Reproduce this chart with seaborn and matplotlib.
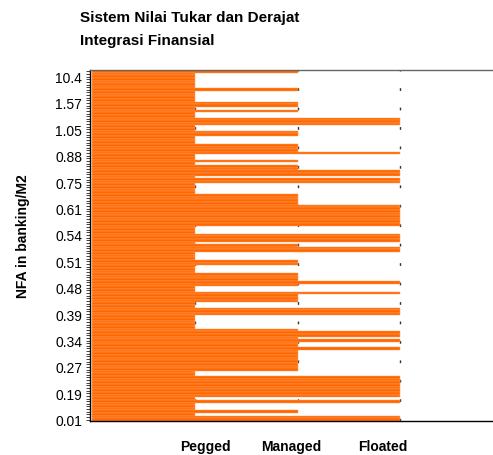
import matplotlib
matplotlib.use("Agg")
import matplotlib.pyplot as plt
import seaborn as sns
import numpy as np
import pandas as pd

# Exchange-rate regime per country row, top (highest NFA) to bottom (lowest NFA)
# 1 = Pegged, 2 = Managed, 3 = Floated
regime = [2,
          1, 1, 1, 1, 1, 1,
          2,
          1, 1, 1, 1,
          2, 2,
          1,
          2,
          1, 1,
          3, 3, 3,
          1, 1,
          2, 2,
          1, 1, 1,
          2, 2, 2,
          3,
          1, 1,
          2,
          1,
          2, 2,
          3, 3,
          1,
          3, 3,
          1, 1, 1, 1,
          2, 2, 2, 2,
          3, 3, 3, 3, 3, 3, 3, 3,
          1, 1, 1,
          3, 3, 3,
          1,
          2,
          3, 3,
          1, 1, 1,
          2, 2,
          1, 1, 1,
          2, 2, 2,
          3,
          2,
          1, 1,
          3,
          2, 2, 2,
          1, 1,
          3, 3, 3,
          1, 1, 1, 1, 1,
          2,
          3, 3,
          2,
          3,
          2, 2,
          3,
          2, 2, 2, 2, 2, 2, 2, 2,
          1, 1,
          3, 3, 3, 3, 3, 3, 3, 3,
          1,
          3,
          1, 1, 1,
          2,
          1,
          3, 3]

# NFA tick labels shown on the y axis (every 10th row, top to bottom)
nfa_labels = ["10.4", "1.57", "1.05", "0.88", "0.75", "0.61", "0.54",
              "0.51", "0.48", "0.39", "0.34", "0.27", "0.19", "0.01"]
regime_labels = ["Pegged", "Managed", "Floated"]

title = "Sistem Nilai Tukar dan Derajat\nIntegrasi Finansial"
ylabel = "NFA in banking/M2"

n = len(regime)
df = pd.DataFrame({"row": np.arange(n), "regime": regime})

sns.set_theme(style="white")
plt.rcParams["font.family"] = ["Liberation Sans", "DejaVu Sans"]
plt.rcParams["text.color"] = "black"
plt.rcParams["axes.labelcolor"] = "black"
plt.rcParams["xtick.color"] = "black"
plt.rcParams["ytick.color"] = "black"

fig = plt.figure(figsize=(4.93, 4.56), dpi=100)
ax = fig.add_axes([90 / 493, 1 - 422 / 456, 1 - 90 / 493, (422 - 71) / 456])

# dashed grid behind bars
for xv in [1, 2, 3]:
    ax.axvline(xv, color="#333333", lw=1.0, ls=(0, (2, 12)), zorder=0)

sns.barplot(data=df, x="regime", y="row", orient="h", color="#FF6600",
            saturation=1, width=1.0, edgecolor="#FFA060", linewidth=0.35,
            ax=ax, zorder=2)

ax.set_xlim(-0.02, 3.9)
ax.set_ylim(n - 0.5, -0.5)

# y ticks
major_pos = list(range(n - 1, -1, -10))[::-1]
ax.set_yticks(major_pos)
ax.set_yticklabels(nfa_labels, fontsize=10)
ax.set_yticks(np.arange(n), minor=True)
ax.tick_params(axis="y", which="both", left=True, length=3, width=0.6,
               color="#222222", pad=2.5)

# x ticks
ax.set_xticks([1.10, 1.94, 2.83])
ax.set_xticklabels(regime_labels, fontsize=10, fontweight="bold")
ax.tick_params(axis="x", length=0, pad=13)

ax.set_xlabel("")
ax.set_ylabel(ylabel, fontsize=10, fontweight="bold", labelpad=15)
ax.yaxis.set_label_coords(-0.148, 0.53)

for side in ["left", "bottom"]:
    ax.spines[side].set_color("#000000")
    ax.spines[side].set_linewidth(1.0)
ax.spines["top"].set_color("#666666")
ax.spines["top"].set_linewidth(1.0)
ax.spines["right"].set_visible(False)

fig.text(80 / 493, 1 - 11 / 456, title, ha="left", va="top",
         fontsize=11, fontweight="bold", linespacing=1.8)

fig.savefig("out.png", dpi=100)
